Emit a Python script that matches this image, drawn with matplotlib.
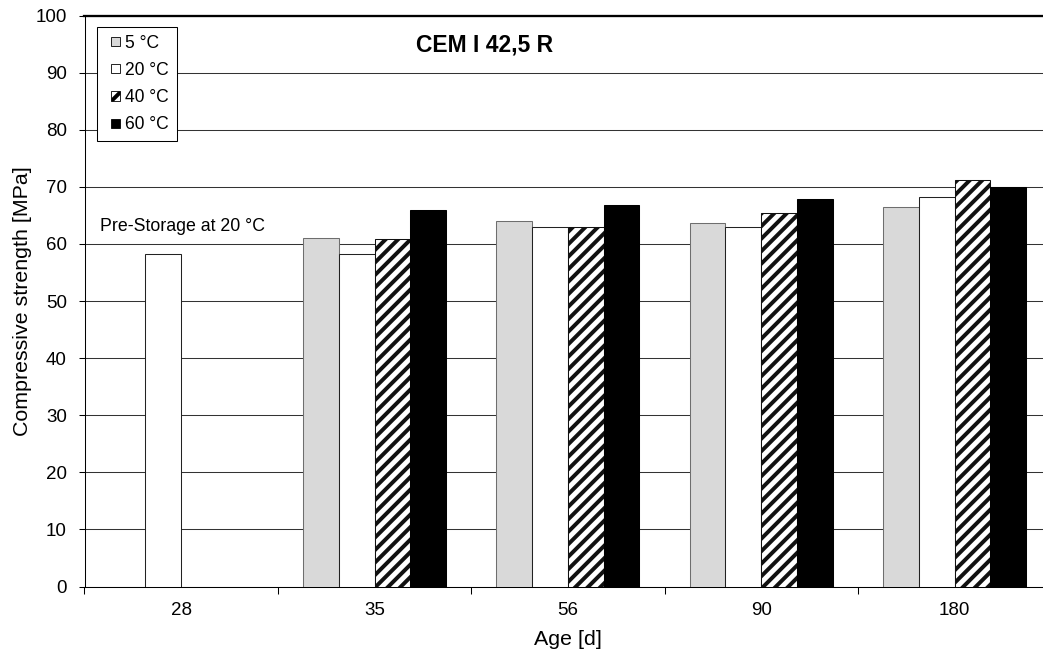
import numpy as np
import matplotlib
matplotlib.use("Agg")
import matplotlib.pyplot as plt
from matplotlib.patches import Patch, Rectangle
from matplotlib.legend_handler import HandlerPatch

plt.rcParams['font.family'] = ['Liberation Sans', 'DejaVu Sans']
plt.rcParams['hatch.linewidth'] = 3.8

ages = ['28', '35', '56', '90', '180']
labels = ['5 °C', '20 °C', '40 °C', '60 °C']
s5 = [np.nan, 61.1, 64.0, 63.7, 66.5]
s20 = [58.2, 58.3, 63.0, 62.9, 68.2]
s40 = [np.nan, 60.8, 63.0, 65.4, 71.2]
s60 = [np.nan, 66.0, 66.8, 67.9, 70.0]

# hatch spacing is tied to the figure inch, so use a low dpi
DPI = 75
fig = plt.figure(figsize=(1043 / DPI, 659 / DPI), dpi=DPI)
ax = fig.add_axes([84.5 / 1043, 72.5 / 659, 966.7 / 1043, 571 / 659])

x = np.arange(len(ages))
w = 0.1846
styles = [
    dict(color='#d9d9d9', edgecolor='#6e6e6e'),
    dict(color='white', edgecolor='#222222'),
    dict(color='white', edgecolor='#111111', hatch='//'),
    dict(color='black', edgecolor='black'),
]
series = [s5, s20, s40, s60]
for i, (vals, st) in enumerate(zip(series, styles)):
    ax.bar(x + (i - 1.5) * w, vals, w, linewidth=1.0, zorder=3, **st)

ax.set_xlim(-0.5, 4.5)
ax.set_ylim(0, 100)
ax.set_yticks(np.arange(0, 101, 10))
ax.set_xticks(x)
ax.set_xticklabels(ages)
ax.set_xticks(np.arange(-0.5, 5, 1), minor=True)
ax.tick_params(axis='x', which='major', length=0, pad=15, labelsize=18)
ax.tick_params(axis='x', which='minor', length=7, width=1, direction='out')
ax.tick_params(axis='y', length=6, width=1, direction='out', labelsize=18, pad=11)
ax.yaxis.grid(True, color='#333333', linewidth=1.0, zorder=0)
ax.set_axisbelow(True)

for side in ['left', 'bottom']:
    ax.spines[side].set_color('black')
    ax.spines[side].set_linewidth(1.0)
ax.spines['top'].set_linewidth(2.2)
ax.spines['top'].set_color('black')
ax.spines['right'].set_visible(False)

ax.set_xlabel('Age [d]', fontsize=20.5)
ax.set_ylabel('Compressive strength [MPa]', fontsize=20.5)
ax.xaxis.set_label_coords(0.5, -0.076)
ax.yaxis.set_label_coords(-0.054, 0.5)

ax.text(0.414, 0.948, 'CEM I 42,5 R', transform=ax.transAxes, ha='center',
        va='center', fontsize=22, fontweight='bold')
ax.text(0.016, 0.631, 'Pre-Storage at 20 °C', transform=ax.transAxes,
        ha='left', va='center', fontsize=17)


def small_square(legend, orig_handle, xdescent, ydescent, width, height, fontsize):
    s = 0.52 * fontsize
    return Rectangle((-xdescent + width - s, -ydescent + (height - s) / 2), s, s)


handles = [Patch(facecolor=st['color'], edgecolor='black', linewidth=0.8,
                 hatch=st.get('hatch')) for st in styles]
leg = ax.legend(handles, labels, loc='upper left', bbox_to_anchor=(0.0129, 0.980),
                borderaxespad=0, fontsize=16.8, handlelength=0.85, handleheight=0.7,
                handletextpad=0.3, labelspacing=0.58, borderpad=0.45,
                fancybox=False, framealpha=1, edgecolor='black',
                handler_map={Patch: HandlerPatch(patch_func=small_square)})
leg.get_frame().set_linewidth(1.0)
leg.set_zorder(5)

fig.savefig('out.png', dpi=DPI)
